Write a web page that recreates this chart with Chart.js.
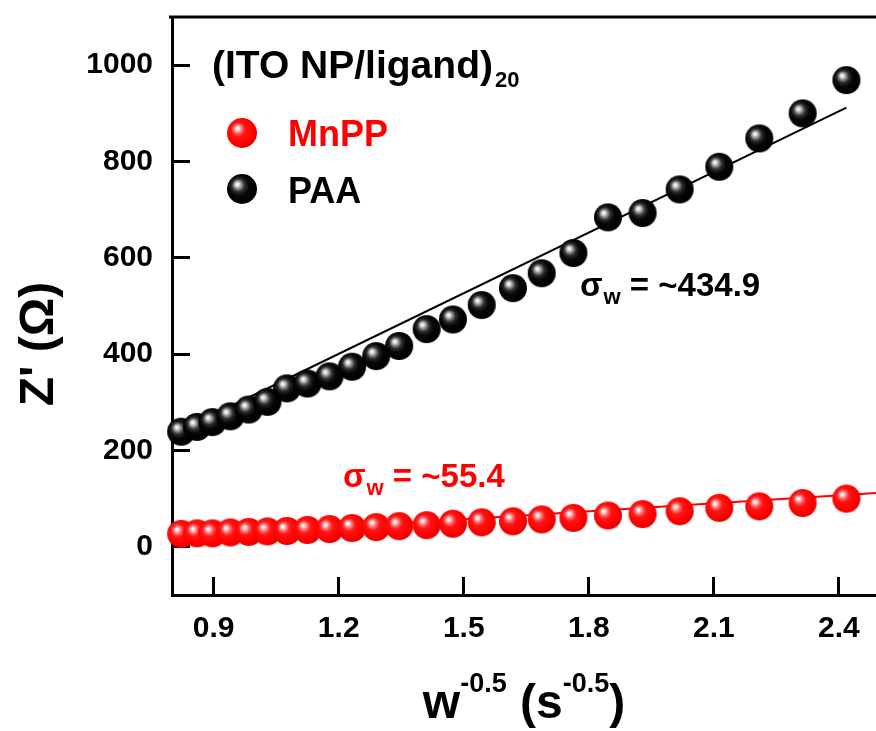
<!DOCTYPE html>
<html>
<head>
<meta charset="utf-8">
<script src="https://cdn.jsdelivr.net/npm/chart.js@4.4.1/dist/chart.umd.min.js"></script>
<style>
  html, body { margin: 0; padding: 0; background: #ffffff; }
  #wrap { width: 876px; height: 731px; }
</style>
</head>
<body>
<div id="wrap"><canvas id="chart" width="876" height="731"></canvas></div>
<script>
// Warburg plot: Z' versus w^-0.5 for (ITO NP/ligand)20 films
const wInvSqrt = [0.822, 0.860, 0.897, 0.940, 0.984, 1.029, 1.076, 1.125, 1.178, 1.232,
                  1.290, 1.345, 1.411, 1.474, 1.543, 1.618, 1.687, 1.763, 1.846, 1.929,
                  2.018, 2.113, 2.209, 2.313, 2.418];
const zMnPP = [27, 28, 28, 30, 31, 32, 33, 35, 37, 39,
               41, 43, 45, 48, 51, 53, 57, 60, 65, 68,
               74, 81, 84, 91, 100];
const zPAA = [239, 249, 259, 271, 285, 301, 329, 339, 354, 374,
              396, 417, 452, 472, 502, 537, 568, 610, 684, 693,
              742, 789, 848, 900, 969];

// linear Warburg fits (end points)
const fitMnPPX = [0.822, 2.489];
const fitMnPPY = [20, 112];
const fitPAAX = [0.822, 2.418];
const fitPAAY = [242, 912];

const xTicks = [0.9, 1.2, 1.5, 1.8, 2.1, 2.4];
const yTicks = [0, 200, 400, 600, 800, 1000];

const legendTitle = '(ITO NP/ligand)';
const legendTitleSub = '20';
const seriesNames = ['MnPP', 'PAA'];
const sigmaMnPP = ' = ~55.4';
const sigmaPAA = ' = ~434.9';

const RED = '#ff0000';
const FONT = '"Liberation Sans", Arial, sans-serif';

// shaded sphere used as the point marker
function makeBall(r, stops) {
  const c = document.createElement('canvas');
  c.width = c.height = 2 * r + 2;
  const ctx = c.getContext('2d');
  const cx = r + 1, cy = r + 1;
  const g = ctx.createRadialGradient(cx - r * 0.33, cy - r * 0.33, 0, cx - r * 0.12, cy - r * 0.12, r * 1.1);
  stops.forEach(s => g.addColorStop(s[0], s[1]));
  ctx.beginPath();
  ctx.arc(cx, cy, r, 0, Math.PI * 2);
  ctx.fillStyle = g;
  ctx.fill();
  return c;
}
const blackStops = [[0, '#ffffff'], [0.1, '#e6e6e6'], [0.24, '#8c8c8c'], [0.4, '#2c2c2c'], [0.62, '#060606'], [1, '#000000']];
const redStops = [[0, '#ffffff'], [0.1, '#ffe2e2'], [0.26, '#ff6a6a'], [0.44, '#ff1414'], [0.8, '#ff0000'], [1, '#e80000']];
const redBall = makeBall(14, redStops);
const blackBall = makeBall(14, blackStops);
const redBallLg = makeBall(15, redStops);
const blackBallLg = makeBall(15, blackStops);

const pts = (xs, ys) => xs.map((x, i) => ({ x: x, y: ys[i] }));

// fixed axis box sizes, without the extra edge padding for labels
function fixBox(size, horizontal) {
  return s => {
    if (horizontal) { s.height = size; } else { s.width = size; }
    s.paddingTop = 0; s.paddingBottom = 0; s.paddingLeft = 0; s.paddingRight = 0;
  };
}

// frame line, titles, legend and annotations
const decorations = {
  id: 'decorations',
  afterDraw(chart) {
    const ctx = chart.ctx;
    const area = chart.chartArea;
    ctx.save();
    // top frame line
    ctx.strokeStyle = '#000';
    ctx.lineWidth = 3;
    ctx.beginPath();
    ctx.moveTo(area.left - 3, area.top);
    ctx.lineTo(area.right, area.top);
    ctx.stroke();

    ctx.textAlign = 'left';
    ctx.textBaseline = 'alphabetic';

    // legend block
    ctx.fillStyle = '#000';
    ctx.font = 'bold 39px ' + FONT;
    ctx.fillText(legendTitle, 212, 78);
    const tw = ctx.measureText(legendTitle).width;
    ctx.font = 'bold 22px ' + FONT;
    ctx.fillText(legendTitleSub, 212 + tw + 2, 87);

    ctx.drawImage(redBallLg, 242 - redBallLg.width / 2, 133 - redBallLg.height / 2);
    ctx.drawImage(blackBallLg, 242 - blackBallLg.width / 2, 189 - blackBallLg.height / 2);
    ctx.font = 'bold 36px ' + FONT;
    ctx.fillStyle = RED;
    ctx.fillText(seriesNames[0], 288, 146);
    ctx.fillStyle = '#000';
    ctx.fillText(seriesNames[1], 288, 203);

    // Warburg coefficient labels
    function sigma(x, y, rest, color) {
      ctx.fillStyle = color;
      ctx.font = 'bold 33px ' + FONT;
      ctx.fillText('σ', x, y);
      let cx = x + ctx.measureText('σ').width + 1;
      ctx.font = 'bold 22px ' + FONT;
      ctx.fillText('w', cx, y + 8);
      cx += ctx.measureText('w').width;
      ctx.font = 'bold 33px ' + FONT;
      ctx.fillText(rest, cx, y);
    }
    sigma(580, 296, sigmaPAA, '#000');
    sigma(343, 487, sigmaMnPP, RED);

    // x axis title with superscripts
    const parts = [['w', 48, 0], ['-0.5', 27, -26], [' (s', 48, 0], ['-0.5', 27, -26], [')', 48, 0]];
    let total = 0;
    parts.forEach(p => { ctx.font = 'bold ' + p[1] + 'px ' + FONT; total += ctx.measureText(p[0]).width; });
    let px = (area.left + area.right) / 2 - total / 2;
    ctx.fillStyle = '#000';
    parts.forEach(p => {
      ctx.font = 'bold ' + p[1] + 'px ' + FONT;
      ctx.fillText(p[0], px, 718 + p[2]);
      px += ctx.measureText(p[0]).width;
    });

    // y axis title
    ctx.translate(53, 344);
    ctx.rotate(-Math.PI / 2);
    ctx.textAlign = 'center';
    ctx.font = 'bold 48px ' + FONT;
    ctx.fillText("Z' (Ω)", 0, 0);
    ctx.restore();
  }
};

new Chart(document.getElementById('chart'), {
  type: 'scatter',
  data: {
    datasets: [
      { label: seriesNames[0], data: pts(wInvSqrt, zMnPP), pointStyle: redBall, pointRadius: 14,
        pointHoverRadius: 14, showLine: false, clip: false, order: 0 },
      { label: seriesNames[1], data: pts(wInvSqrt, zPAA), pointStyle: blackBall, pointRadius: 14,
        pointHoverRadius: 14, showLine: false, clip: false, order: 0 },
      { label: 'MnPP fit', data: pts(fitMnPPX, fitMnPPY), showLine: true, borderColor: RED,
        borderWidth: 2, pointRadius: 0, order: 1 },
      { label: 'PAA fit', data: pts(fitPAAX, fitPAAY), showLine: true, borderColor: '#000',
        borderWidth: 2, pointRadius: 0, order: 1 }
    ]
  },
  options: {
    responsive: false,
    animation: false,
    layout: { autoPadding: false, padding: { top: 17, right: 0, left: 0, bottom: 0 } },
    plugins: { legend: { display: false }, tooltip: { enabled: false } },
    scales: {
      x: {
        type: 'linear',
        min: 0.8,
        max: 2.489,
        afterBuildTicks: s => { s.ticks = xTicks.map(v => ({ value: v })); },
        afterFit: fixBox(136, true),
        ticks: { autoSkip: false, maxRotation: 0, padding: 34, color: '#000',
                 font: { family: FONT, size: 30, weight: 'bold' },
                 callback: v => Number(v).toFixed(1) },
        grid: { drawOnChartArea: false, drawTicks: true, tickLength: -18, tickWidth: 3, tickColor: '#000' },
        border: { display: true, width: 3, color: '#000' }
      },
      y: {
        type: 'linear',
        min: -100,
        max: 1100,
        afterBuildTicks: s => { s.ticks = yTicks.map(v => ({ value: v })); },
        afterFit: fixBox(172, false),
        ticks: { autoSkip: false, padding: 37, color: '#000',
                 font: { family: FONT, size: 30, weight: 'bold' },
                 callback: v => String(v) },
        grid: { drawOnChartArea: false, drawTicks: true, tickLength: -18, tickWidth: 3, tickColor: '#000' },
        border: { display: true, width: 3, color: '#000' }
      }
    }
  },
  plugins: [decorations]
});
</script>
</body>
</html>
